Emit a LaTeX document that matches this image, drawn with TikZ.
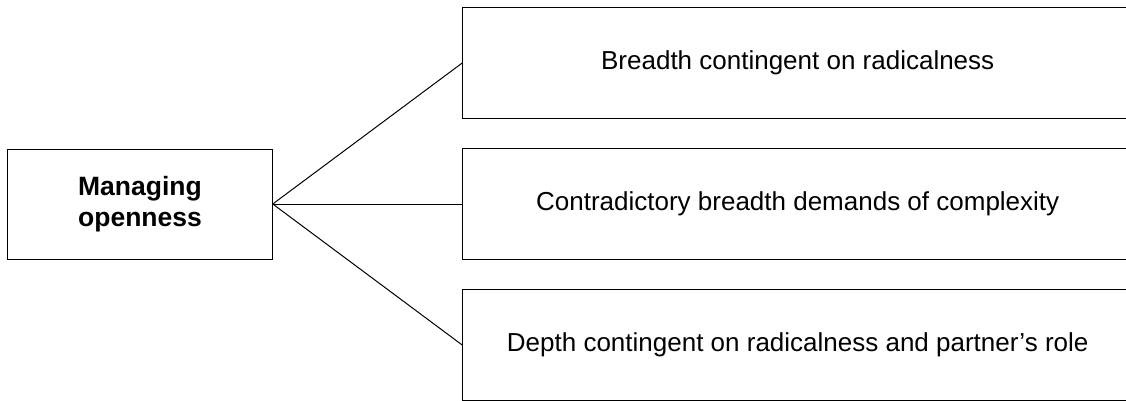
\documentclass[tikz,border=0pt]{standalone}
\usepackage{fontspec}
\setmainfont{Liberation Sans}
\begin{document}
\begin{tikzpicture}[x=1pt,y=-1pt,
  frame/.style={draw=black,line width=1pt,rectangle,inner sep=0pt,align=center,
    font=\fontsize{26}{30.5}\selectfont},
  hub/.style={frame,minimum width=264.5pt,minimum height=110pt,font=\fontsize{26.5}{30.5}\selectfont\bfseries},
  item/.style={frame,minimum width=670pt,minimum height=110.5pt},
  link/.style={draw=black,line width=1pt}]
\useasboundingbox (0,0) rectangle (1126,401);
\clip (0,0) rectangle (1126,401);
\node[hub] (hub) at (140,204) {Managing\\openness};
\node[item] (a) at (797.7,63) {Breadth contingent on radicalness};
\node[item] (b) at (797.7,204) {Contradictory breadth demands of complexity};
\node[item] (c) at (797.7,345) {Depth contingent on radicalness and partner’s role};
\draw[link] (hub.east) -- (a.west);
\draw[link] (hub.east) -- (b.west);
\draw[link] (hub.east) -- (c.west);
\end{tikzpicture}
\end{document}
